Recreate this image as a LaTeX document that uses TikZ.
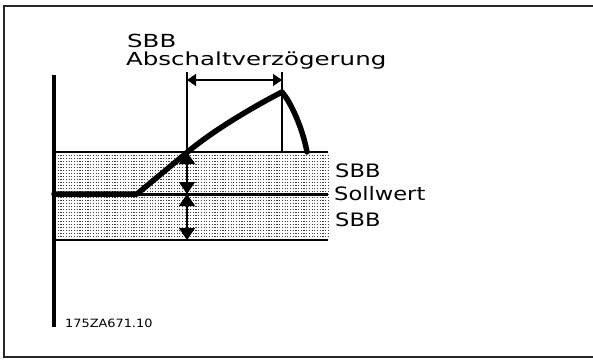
\documentclass[tikz,border=0pt]{standalone}
\usepackage{fontspec}
\setmainfont{DejaVu Sans}[FakeStretch=1.22]
\newfontfamily\topfont{DejaVu Sans}[FakeStretch=1.36]
\newfontfamily\codefont{DejaVu Sans}[FakeStretch=1.13]
\usetikzlibrary{arrows.meta}
\tikzset{
  lbl/.style={inner sep=0pt, anchor=base west, font=\fontsize{18.5}{20}\selectfont},
  toplbl/.style={inner sep=0pt, anchor=base west, font=\topfont\fontsize{18}{20}\selectfont},
  codelbl/.style={inner sep=0pt, anchor=base west, font=\codefont\fontsize{11.4}{12}\selectfont},
  frameline/.style={line width=1.4pt, black!85},
  axisline/.style={line width=4pt},
  thinline/.style={line width=1.3pt},
  bandedge/.style={line width=1.3pt},
  curveline/.style={line width=5.5pt, line join=round, line cap=round},
  dotrow/.style={line width=1pt, black!75, dash pattern=on 1.2pt off 1.5pt},
  vdim/.style={thinline, {Triangle[length=12pt,width=16pt]}-{Triangle[length=12pt,width=16pt]}},
  hdim/.style={thinline, {Triangle[length=9pt,width=12pt]}-{Triangle[length=9pt,width=12pt]}}
}
\begin{document}
\begin{tikzpicture}[x=1pt,y=-1pt]
\useasboundingbox (0,0) rectangle (593,361);
% frame
\draw[frameline] (593,6) -- (4,6) -- (4,357) -- (593,357);
% band dots
\foreach \yy in {155,158,...,238} {
  \draw[dotrow] (55,\yy) -- (328,\yy);
}
% coordinates
\coordinate (bandTL) at (54,152);
\coordinate (bandTR) at (328,152);
\coordinate (bandBL) at (54,240);
\coordinate (bandBR) at (328,240);
\coordinate (spL) at (54,194);
\coordinate (spR) at (328,194);
\coordinate (knee) at (137,194);
\coordinate (cross) at (190,150);
\coordinate (peak) at (282,92);
\coordinate (fall) at (307,152);
\coordinate (axTop) at (54,75);
\coordinate (axBot) at (54,327);
\coordinate (vlTop) at (187,72);
\coordinate (vlBot) at (187,240);
\coordinate (vrTop) at (282,72);
\coordinate (vrBot) at (282,152);
\coordinate (dimL) at (187,80);
\coordinate (dimR) at (282,80);
\coordinate (aTop) at (187,152);
\coordinate (aMid) at (187,194);
\coordinate (aBot) at (187,240);
% band edges
\draw[bandedge] (bandTL) -- (bandTR);
\draw[bandedge] (bandBL) -- (bandBR);
% setpoint line
\draw[line width=3pt] (spL) -- (spR);
% vertical thin lines
\draw[thinline] (vlTop) -- (vlBot);
\draw[thinline] (vrTop) -- (vrBot);
% dimension arrows
\draw[hdim] (dimL) -- (dimR);
\draw[vdim] (aTop) -- (aMid);
\draw[vdim] (aMid) -- (aBot);
% curve
\draw[curveline] (spL) -- (knee) -- (cross)
  .. controls (217,128) and (255,106) .. (peak)
  .. controls (292,104) and (303,130) .. (fall);
% axis
\draw[axisline] (axTop) -- (axBot);
% labels
\node[toplbl] (t1) at (127,47.5) {SBB};
\node[toplbl] (t2) at (126,65) {Abschaltverzögerung};
\node[lbl] (r1) at (335,177.5) {SBB};
\node[lbl] (r2) at (334,200.5) {Sollwert};
\node[lbl] (r3) at (335,226.5) {SBB};
\node[codelbl] (code) at (65,327) {175ZA671.10};
\end{tikzpicture}
\end{document}
